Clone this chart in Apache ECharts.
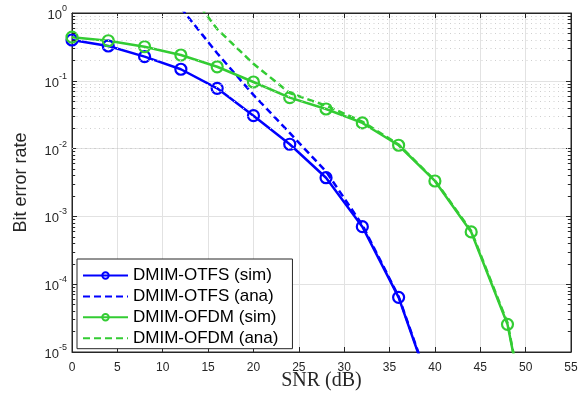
<!DOCTYPE html>
<html>
<head>
<meta charset="utf-8">
<script src="https://cdn.jsdelivr.net/npm/echarts@6/dist/echarts.min.js"></script>
<style>html,body{margin:0;padding:0;background:#fff}#c{width:587px;height:397px}</style>
</head>
<body>
<div id="c"></div>
<script>
const snr = [0, 4, 8, 12, 16, 20, 24, 28, 32, 36, 40, 44, 48, 52];
const otfsSim = [0.40, 0.326, 0.227, 0.148, 0.0775, 0.0306, 0.0116, 0.00372, 7.05e-4, 6.4e-5, 1.9e-6, null, null, null];
const otfsAna = [null, null, null, 1.19, 0.255, 0.062, 0.017, 0.0046, 7.5e-4, 6.6e-5, 2.0e-6, null, null, null];
const ofdmSim = [0.44, 0.39, 0.318, 0.24, 0.161, 0.096, 0.0564, 0.0384, 0.0239, 0.0112, 0.00333, 5.9e-4, 2.56e-5, 5e-8];
const ofdmAna = [null, null, null, 3.0, 0.58, 0.178, 0.066, 0.043, 0.025, 0.0115, 0.0034, 6.1e-4, 2.7e-5, 5e-8];
const seriesNames = ['DMIM-OTFS (sim)', 'DMIM-OTFS (ana)', 'DMIM-OFDM (sim)', 'DMIM-OFDM (ana)'];
const xTicks = [0, 5, 10, 15, 20, 25, 30, 35, 40, 45, 50, 55];

const BLUE = '#0000ff', GREEN = '#33cc33', AXIS = '#262626';
const pairs = ys => snr.map((x, i) => [x, ys[i]]);

const minorVals = [];
for (let k = -5; k < 0; k++) for (let m = 2; m <= 9; m++) minorVals.push(m * Math.pow(10, k));
const xMin = xTicks[0], xMax = xTicks[xTicks.length - 1];
const tickLen = 0.35;
const minorTicks = [];
minorVals.forEach(v => {
  minorTicks.push([{coord: [xMin, v]}, {coord: [xMin + tickLen, v]}]);
  minorTicks.push([{coord: [xMax - tickLen, v]}, {coord: [xMax, v]}]);
});

function simSeries(name, data, color) {
  return {
    name, type: 'line', data: pairs(data), z: 4, clip: true,
    symbol: 'circle', symbolSize: 11, showSymbol: true,
    lineStyle: {color, width: 2.5},
    itemStyle: {color: 'rgba(255,255,255,0)', borderColor: color, borderWidth: 2.2},
    emphasis: {disabled: true}, animation: false
  };
}
function anaSeries(name, data, color) {
  return {
    name, type: 'line', data: pairs(data), z: 3, clip: true,
    symbol: 'none', showSymbol: false,
    lineStyle: {color, width: 2.5, type: [7, 4]},
    itemStyle: {color},
    emphasis: {disabled: true}, animation: false
  };
}

const chart = echarts.init(document.getElementById('c'), null, {renderer: 'canvas'});
chart.setOption({
  backgroundColor: '#fff',
  animation: false,
  grid: {left: 72, right: 16, top: 13, bottom: 45, show: true, borderColor: AXIS, borderWidth: 1,
         backgroundColor: '#fff', containLabel: false, outerBoundsMode: 'none'},
  legend: {
    data: [
      {name: seriesNames[0]},
      {name: seriesNames[1], itemStyle: {opacity: 0}},
      {name: seriesNames[2]},
      {name: seriesNames[3], itemStyle: {opacity: 0}}
    ],
    orient: 'vertical', left: 77, top: 259,
    itemWidth: 45, itemHeight: 8, itemGap: 3.9,
    padding: [8, 14, 2, 5],
    backgroundColor: '#fff', borderColor: AXIS, borderWidth: 1,
    textStyle: {fontFamily: 'Liberation Sans, Arial', fontSize: 17, color: '#000'},
    selectedMode: false
  },
  xAxis: [{
    type: 'value', min: xMin, max: xMax, interval: 5, position: 'bottom',
    name: 'SNR (dB)', nameLocation: 'middle', nameGap: 19, nameMoveOverlap: false,
    nameTextStyle: {fontFamily: 'Liberation Serif, Times New Roman, serif', fontSize: 20, color: AXIS},
    axisLine: {show: true, onZero: false, lineStyle: {color: AXIS}},
    axisTick: {show: true, inside: true, length: 5, lineStyle: {color: AXIS}},
    axisLabel: {margin: 10, fontFamily: 'Liberation Sans, Arial', fontSize: 12, color: AXIS},
    splitLine: {show: true, lineStyle: {color: '#e2e2e2', width: 1}}
  }, {
    type: 'value', min: xMin, max: xMax, interval: 5, position: 'top',
    axisLine: {show: true, onZero: false, lineStyle: {color: AXIS}},
    axisTick: {show: true, inside: true, length: 5, lineStyle: {color: AXIS}},
    axisLabel: {show: false}, splitLine: {show: false}
  }],
  yAxis: [{
    type: 'log', logBase: 10, min: 1e-5, max: 1, position: 'left',
    name: 'Bit error rate', nameLocation: 'middle', nameGap: 42, nameMoveOverlap: false,
    nameTextStyle: {fontFamily: 'Liberation Sans, Arial', fontSize: 18, color: AXIS},
    axisLine: {show: true, onZero: false, lineStyle: {color: AXIS}},
    axisTick: {show: true, inside: true, length: 5, lineStyle: {color: AXIS}},
    axisLabel: {
      margin: 5,
      formatter: v => '{b|10}{e|' + Math.round(Math.log10(v)) + '}',
      rich: {
        b: {fontFamily: 'Liberation Sans, Arial', fontSize: 13, color: AXIS, verticalAlign: 'bottom', lineHeight: 18},
        e: {fontFamily: 'Liberation Sans, Arial', fontSize: 9, color: AXIS, verticalAlign: 'top', lineHeight: 18}
      }
    },
    splitLine: {show: true, lineStyle: {color: '#e2e2e2', width: 1}}
  }, {
    type: 'log', logBase: 10, min: 1e-5, max: 1, position: 'right',
    axisLine: {show: true, onZero: false, lineStyle: {color: AXIS}},
    axisTick: {show: true, inside: true, length: 5, lineStyle: {color: AXIS}},
    axisLabel: {show: false}, splitLine: {show: false}
  }],
  series: [
    {
      name: 'minorGrid', type: 'line', data: [], z: 1, silent: true, animation: false,
      markLine: {
        silent: true, animation: false, symbol: ['none', 'none'], label: {show: false},
        lineStyle: {color: '#cfcfcf', width: 1, type: [1, 3.5]},
        emphasis: {disabled: true},
        data: minorVals.map(v => ({yAxis: v}))
      }
    },
    {
      name: 'minorTicks', type: 'line', data: [], z: 5, silent: true, animation: false,
      markLine: {
        silent: true, animation: false, symbol: ['none', 'none'], label: {show: false},
        lineStyle: {color: AXIS, width: 1, type: 'solid'},
        emphasis: {disabled: true},
        data: minorTicks
      }
    },
    simSeries(seriesNames[0], otfsSim, BLUE),
    anaSeries(seriesNames[1], otfsAna, BLUE),
    simSeries(seriesNames[2], ofdmSim, GREEN),
    anaSeries(seriesNames[3], ofdmAna, GREEN)
  ]
});
</script>
</body>
</html>
